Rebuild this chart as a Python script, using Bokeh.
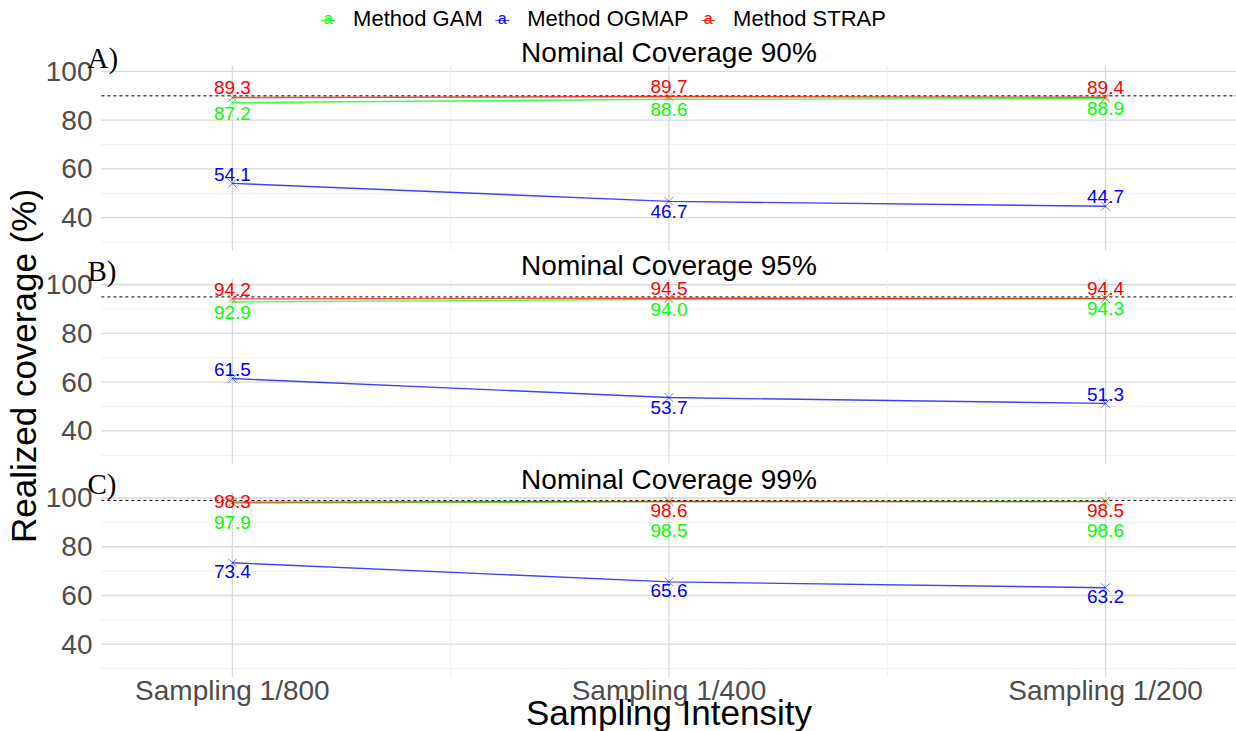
from bokeh.plotting import figure
from bokeh.models import ColumnDataSource, FixedTicker, Label, Range1d
from bokeh.core.properties import value
from bokeh.embed import file_html
from bokeh.resources import INLINE

# ---------------- data ----------------
categories = ["Sampling 1/800", "Sampling 1/400", "Sampling 1/200"]
cat_pos = [1, 2, 3]
panel_tags = ["A)", "B)", "C)"]
panel_titles = ["Nominal Coverage 90%", "Nominal Coverage 95%", "Nominal Coverage 99%"]
nominal = [90, 95, 99]
methods = ["Method GAM", "Method OGMAP", "Method STRAP"]
gam = [[87.2, 88.6, 88.9], [92.9, 94.0, 94.3], [97.9, 98.5, 98.6]]
ogmap = [[54.1, 46.7, 44.7], [61.5, 53.7, 51.3], [73.4, 65.6, 63.2]]
strap = [[89.3, 89.7, 89.4], [94.2, 94.5, 94.4], [98.3, 98.6, 98.5]]
y_tick_values = [40, 60, 80, 100]
y_tick_labels = ["40", "60", "80", "100"]
y_minor_values = [30, 50, 70, 90]
x_minor_values = [1.5, 2.5]

# ---------------- style ----------------
colors = ["#00ff00", "#0000ff", "#ff0000"]
# label offsets in px (positive = downward), like ggrepel placement
gam_dy = [[11, 10, 10], [10, 10, 10], [19, 29, 29]]
ogmap_dy = [[-9, 10, -10], [-9, 10, -9], [9, 9, 9]]
strap_dy = [[-10, -10, -10], [-9, -10, -10], [-1, 9, 9]]

FONT = "Liberation Sans"
SERIF = "Liberation Serif"
W, H = 1236, 731
FRAME_LEFT = 78           # px where the frame starts
PANEL_LEFT = 95           # px where panel area starts
PANEL_TOP = 65            # px of panel A top
PITCH = 87.5              # data units between panels
Y_LO, Y_HI = 26.55, 102.45
X_LO, X_HI = 0.7, 3.3
px_x = (X_HI - X_LO) / (W - PANEL_LEFT)
px_y = 0.4103


def xd(px):
    return X_LO + (px - PANEL_LEFT) * px_x


def yd(py):
    return Y_HI + (PANEL_TOP - py) * px_y


p = figure(width=W, height=H, output_backend="svg", toolbar_location=None,
           x_range=Range1d(xd(FRAME_LEFT), X_HI), y_range=Range1d(yd(H), yd(0)),
           min_border_left=FRAME_LEFT, min_border_right=0, min_border_top=0,
           min_border_bottom=0)
p.outline_line_color = None
p.background_fill_color = "white"
p.border_fill_color = "white"
p.xaxis.visible = False
p.xgrid.visible = False
p.ygrid.visible = False

# y axis ticks per panel
major, overrides = [], {}
for k in range(3):
    off = -k * PITCH
    for v, lab in zip(y_tick_values, y_tick_labels):
        major.append(v + off)
        overrides[v + off] = lab
ax = p.yaxis[0]
ax.ticker = FixedTicker(ticks=major, minor_ticks=[])
ax.major_label_overrides = overrides
ax.axis_line_color = None
ax.major_tick_line_color = None
ax.minor_tick_line_color = None
ax.major_label_text_font = FONT
ax.major_label_text_color = "#4d4d4d"
ax.major_label_text_font_size = "28px"
ax.major_label_standoff = -(PANEL_LEFT - 3 - FRAME_LEFT)
ax.axis_label = "Realized coverage (%)"
ax.axis_label_text_font = FONT
ax.axis_label_text_font_size = "35px"
ax.axis_label_text_font_style = "normal"
ax.axis_label_text_color = "black"
ax.axis_label_standoff = 0

# grid lines per panel
gx0, gx1, gy0, gy1, gc, gw = [], [], [], [], [], []
for k in range(3):
    off = -k * PITCH
    for v in y_tick_values:
        gx0.append(X_LO); gx1.append(X_HI); gy0.append(v + off); gy1.append(v + off)
        gc.append("#d9d9d9"); gw.append(1.3)
    for v in y_minor_values:
        gx0.append(X_LO); gx1.append(X_HI); gy0.append(v + off); gy1.append(v + off)
        gc.append("#efefef"); gw.append(1.0)
    for c in cat_pos:
        gx0.append(c); gx1.append(c); gy0.append(Y_LO + off); gy1.append(Y_HI + off)
        gc.append("#d9d9d9"); gw.append(1.3)
    for c in x_minor_values:
        gx0.append(c); gx1.append(c); gy0.append(Y_LO + off); gy1.append(Y_HI + off)
        gc.append("#efefef"); gw.append(1.0)
p.segment(x0="x0", y0="y0", x1="x1", y1="y1", color="c", line_width="w",
          source=ColumnDataSource(dict(x0=gx0, x1=gx1, y0=gy0, y1=gy1, c=gc, w=gw)))

# nominal dashed lines
p.segment(x0=[X_LO] * 3, x1=[X_HI] * 3,
          y0=[nominal[k] - k * PITCH for k in range(3)],
          y1=[nominal[k] - k * PITCH for k in range(3)],
          line_color="black", line_dash="3 3", line_width=1)

series = [gam, ogmap, strap]
offsets = [gam_dy, ogmap_dy, strap_dy]
for m in range(3):
    for k in range(3):
        ys = [v - k * PITCH for v in series[m][k]]
        p.line(cat_pos, ys, line_color=colors[m], line_width=1.4, line_alpha=0.75)
        p.scatter(cat_pos, ys, marker="x", size=12, line_color=colors[m], line_alpha=0.55,
                  line_width=1)

for m in range(3):
    xs, ys, labs, dys = [], [], [], []
    for k in range(3):
        for i, c in enumerate(cat_pos):
            xs.append(c)
            ys.append(series[m][k][i] - k * PITCH)
            labs.append(f"{series[m][k][i]:.1f}")
            dys.append(offsets[m][k][i])
    p.text(x="x", y="y", text="t", y_offset="dy",
           source=ColumnDataSource(dict(x=xs, y=ys, t=labs, dy=dys)),
           text_color=colors[m], text_font=value(FONT), text_font_size="19px",
           text_align="center", text_baseline="middle")

# x tick labels and x axis title
p.text(x=cat_pos, y=[yd(690)] * 3, text=categories, text_color="#4d4d4d",
       text_font=value(FONT), text_font_size="28px", text_align="center",
       text_baseline="middle")
p.add_layout(Label(x=2, y=yd(712), text="Sampling Intensity", text_font=FONT,
                   text_font_size="35px", text_color="black", text_align="center",
                   text_baseline="middle"))

# panel titles and tags
for k in range(3):
    off = -k * PITCH
    p.add_layout(Label(x=2, y=Y_HI + off + 13 * px_y, text=panel_titles[k],
                       text_font=FONT, text_font_size="28px", text_color="black",
                       text_align="center", text_baseline="middle"))
    p.add_layout(Label(x=xd(81), y=Y_HI + off + 8 * px_y, text=panel_tags[k],
                       text_font=SERIF, text_font_size="29px", text_color="black",
                       text_align="left", text_baseline="alphabetic"))

# legend on top
legend_text_left = [348, 523, 730]
for m in range(3):
    gxp = legend_text_left[m] - 25
    p.line([xd(gxp - 7), xd(gxp + 7)], [yd(20), yd(20)], line_color=colors[m],
           line_width=1, line_alpha=0.75)
    p.add_layout(Label(x=xd(gxp), y=yd(18), text="a", text_font=FONT,
                       text_font_size="16px", text_color=colors[m],
                       text_align="center", text_baseline="middle"))
    p.add_layout(Label(x=xd(legend_text_left[m]), y=yd(18), text=methods[m],
                       text_font=FONT, text_font_size="22px", text_color="black",
                       text_align="left", text_baseline="middle"))

open("out.html", "w").write(file_html(p, INLINE))
